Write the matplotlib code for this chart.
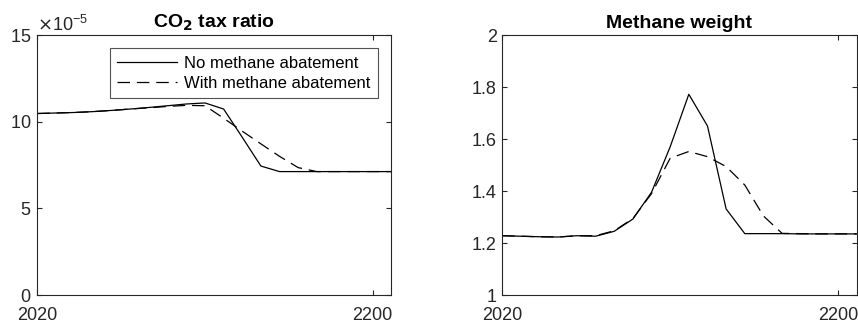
import matplotlib.pyplot as plt
import numpy as np
from matplotlib.ticker import ScalarFormatter

plt.rcParams['font.family'] = ['Liberation Sans', 'DejaVu Sans']

years = np.arange(2020, 2220, 10)

# CO2 tax ratio (x 1e-5)
co2_no_abate = [10.47, 10.50, 10.53, 10.58, 10.65, 10.73, 10.82, 10.92, 11.02, 11.08,
                10.73, 9.10, 7.44, 7.12, 7.12, 7.12, 7.12, 7.12, 7.12, 7.12]
co2_with_abate = [10.47, 10.50, 10.53, 10.58, 10.65, 10.73, 10.80, 10.88, 10.94, 10.92,
                  10.20, 9.45, 8.72, 8.00, 7.35, 7.12, 7.12, 7.12, 7.12, 7.12]

# Methane weight
ch4_no_abate = [1.228, 1.226, 1.224, 1.223, 1.228, 1.226, 1.245, 1.292, 1.395, 1.570,
                1.772, 1.650, 1.331, 1.236, 1.236, 1.236, 1.235, 1.235, 1.235, 1.235]
ch4_with_abate = [1.228, 1.226, 1.224, 1.223, 1.228, 1.228, 1.247, 1.294, 1.390, 1.526,
                  1.552, 1.532, 1.494, 1.423, 1.304, 1.237, 1.236, 1.235, 1.235, 1.235]

grey = '#262626'
plt.rcParams['axes.edgecolor'] = grey
plt.rcParams['xtick.color'] = grey
plt.rcParams['ytick.color'] = grey

fig = plt.figure(figsize=(8.58, 3.31), dpi=100)
ax1 = fig.add_axes([37.3 / 858, 36 / 331, 354 / 858, 260 / 331])
ax2 = fig.add_axes([502.3 / 858, 36 / 331, 354.4 / 858, 260 / 331])

dash = (10, 5.5)

for ax in (ax1, ax2):
    ax.tick_params(direction='in', length=3.5, width=0.8, labelsize=13,
                   top=True, right=True)
    ax.tick_params(axis='x', pad=8.5)
    ax.tick_params(axis='y', pad=4)
    for s in ax.spines.values():
        s.set_linewidth(0.8)
    ax.set_xlim(2020, 2210)
    ax.set_xticks([2020, 2200])

# left panel
ax1.plot(years, np.array(co2_no_abate) * 1e-5, color='k', lw=0.9,
         label='No methane abatement')
ax1.plot(years, np.array(co2_with_abate) * 1e-5, color='k', lw=0.9,
         dashes=dash, label='With methane abatement')
ax1.set_ylim(0, 15e-5)
ax1.set_yticks([0, 5e-5, 10e-5, 15e-5])
fmt = ScalarFormatter(useMathText=True)
fmt.set_powerlimits((-5, -5))
ax1.yaxis.set_major_formatter(fmt)
ax1.yaxis.get_offset_text().set_fontsize(13)
ax1.yaxis.get_offset_text().set_color(grey)
ax1.set_title('CO$_\\mathbf{2}$ tax ratio', fontsize=14, fontweight='bold', pad=5)
leg = ax1.legend(loc='upper right', fontsize=12, handlelength=3.6,
                 frameon=True, fancybox=False, borderaxespad=0.8,
                 borderpad=0.45, labelspacing=0.3, handletextpad=0.4)
leg.get_frame().set_edgecolor(grey)
leg.get_frame().set_linewidth(0.8)

# right panel
ax2.plot(years, ch4_no_abate, color='k', lw=0.9)
ax2.plot(years, ch4_with_abate, color='k', lw=0.9, dashes=dash)
ax2.set_ylim(1, 2)
ax2.set_yticks([1, 1.2, 1.4, 1.6, 1.8, 2])
ax2.set_yticklabels(['1', '1.2', '1.4', '1.6', '1.8', '2'])
ax2.set_title('Methane weight', fontsize=14, fontweight='bold', pad=5)

fig.savefig('out.png', dpi=100)
